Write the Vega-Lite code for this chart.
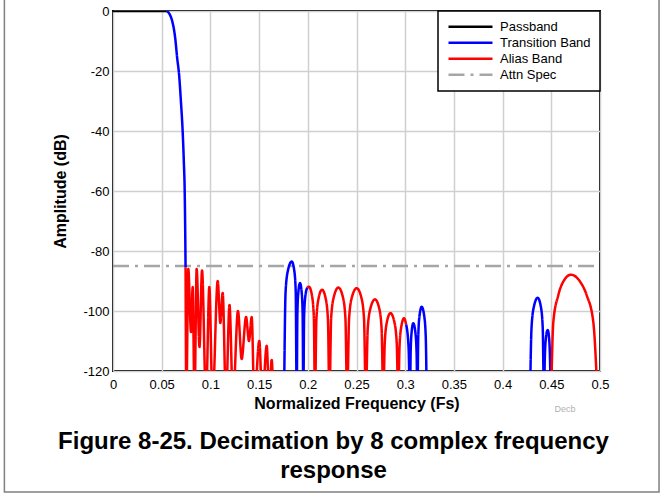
{
  "$schema": "https://vega.github.io/schema/vega-lite/v6.json",
  "width": 487,
  "height": 360,
  "autosize": {"type": "none"},
  "padding": {"left": 113, "top": 11, "right": 62, "bottom": 124},
  "background": "white",
  "config": {
    "font": "Liberation Sans",
    "view": {"stroke": "black", "strokeWidth": 2},
    "axis": {
      "domain": false,
      "ticks": false,
      "grid": true,
      "gridColor": "#d0d0d0",
      "gridWidth": 1.5,
      "labelFont": "Liberation Sans",
      "labelFontSize": 13,
      "labelColor": "black",
      "labelFlush": false,
      "labelOverlap": false,
      "titleFont": "Liberation Sans",
      "titleFontSize": 16,
      "titleFontWeight": "bold",
      "titleColor": "black"
    },
    "legend": {
      "orient": "top-right",
      "offset": 0,
      "strokeColor": "black",
      "strokeWidth": 1.5,
      "fillColor": "white",
      "padding": 9,
      "rowPadding": 2,
      "clipHeight": 13.5,
      "labelFont": "Liberation Sans",
      "labelFontSize": 13,
      "labelColor": "black",
      "symbolType": "stroke",
      "symbolSize": 1936,
      "symbolStrokeWidth": 2.5,
      "symbolOffset": 0,
      "labelOffset": 6
    }
  },
  "title": {
    "text": ["Figure 8-25. Decimation by 8 complex frequency", "response"],
    "orient": "bottom",
    "anchor": "middle",
    "font": "Liberation Sans",
    "fontSize": 24,
    "fontWeight": "bold",
    "color": "black",
    "lineHeight": 29,
    "offset": -63,
    "dx": -23
  },
  "layer": [
    {
      "data": {"values": [{}]},
      "mark": {"type": "rect", "fill": "transparent", "stroke": "#808080", "strokeWidth": 1.5, "clip": false},
      "encoding": {
        "x": {"datum": -0.1115, "type": "quantitative", "scale": {"domain": [0, 0.5], "nice": false, "zero": false}},
        "x2": {"datum": 0.5606},
        "y": {"datum": 10, "type": "quantitative", "scale": {"domain": [-120, 0], "nice": false}},
        "y2": {"datum": -160.3}
      }
    },
    {
      "data": {
        "values": [
          {"seg": "s8", "band": "Attn Spec", "f": 0, "db": -85},
          {"seg": "s8", "band": "Attn Spec", "f": 0.5, "db": -85},
          {"seg": "s0", "band": "Passband", "f": 0, "db": 0},
          {"seg": "s0", "band": "Passband", "f": 0.0551, "db": 0},
          {"seg": "s1", "band": "Transition Band", "f": 0.0551, "db": 0},
          {"seg": "s1", "band": "Transition Band", "f": 0.0585, "db": -1.3},
          {"seg": "s1", "band": "Transition Band", "f": 0.0609, "db": -3.5},
          {"seg": "s1", "band": "Transition Band", "f": 0.0637, "db": -8.6},
          {"seg": "s1", "band": "Transition Band", "f": 0.066, "db": -16},
          {"seg": "s1", "band": "Transition Band", "f": 0.0678, "db": -21},
          {"seg": "s1", "band": "Transition Band", "f": 0.0697, "db": -30},
          {"seg": "s1", "band": "Transition Band", "f": 0.0715, "db": -40},
          {"seg": "s1", "band": "Transition Band", "f": 0.0727, "db": -50},
          {"seg": "s1", "band": "Transition Band", "f": 0.0736, "db": -60},
          {"seg": "s1", "band": "Transition Band", "f": 0.0741, "db": -72},
          {"seg": "s1", "band": "Transition Band", "f": 0.0745, "db": -85.5},
          {"seg": "s2", "band": "Alias Band", "f": 0.0745, "db": -85.5},
          {"seg": "s2", "band": "Alias Band", "f": 0.0753, "db": -130},
          {"seg": "s2", "band": "Alias Band", "f": 0.0773, "db": -86},
          {"seg": "s2", "band": "Alias Band", "f": 0.0801, "db": -107},
          {"seg": "s2", "band": "Alias Band", "f": 0.0818, "db": -92},
          {"seg": "s2", "band": "Alias Band", "f": 0.0837, "db": -130},
          {"seg": "s2", "band": "Alias Band", "f": 0.0859, "db": -86},
          {"seg": "s2", "band": "Alias Band", "f": 0.0888, "db": -112},
          {"seg": "s2", "band": "Alias Band", "f": 0.0914, "db": -86.5},
          {"seg": "s2", "band": "Alias Band", "f": 0.0955, "db": -130},
          {"seg": "s2", "band": "Alias Band", "f": 0.0989, "db": -92},
          {"seg": "s2", "band": "Alias Band", "f": 0.1022, "db": -130},
          {"seg": "s2", "band": "Alias Band", "f": 0.1075, "db": -90},
          {"seg": "s2", "band": "Alias Band", "f": 0.1102, "db": -104},
          {"seg": "s2", "band": "Alias Band", "f": 0.1126, "db": -94},
          {"seg": "s2", "band": "Alias Band", "f": 0.116, "db": -130},
          {"seg": "s2", "band": "Alias Band", "f": 0.1196, "db": -98},
          {"seg": "s2", "band": "Alias Band", "f": 0.1232, "db": -130},
          {"seg": "s2", "band": "Alias Band", "f": 0.1283, "db": -100},
          {"seg": "s2", "band": "Alias Band", "f": 0.1321, "db": -116},
          {"seg": "s2", "band": "Alias Band", "f": 0.1366, "db": -102},
          {"seg": "s2", "band": "Alias Band", "f": 0.1396, "db": -110},
          {"seg": "s2", "band": "Alias Band", "f": 0.1424, "db": -102},
          {"seg": "s2", "band": "Alias Band", "f": 0.1451, "db": -130},
          {"seg": "s2", "band": "Alias Band", "f": 0.1502, "db": -110},
          {"seg": "s2", "band": "Alias Band", "f": 0.1533, "db": -130},
          {"seg": "s2", "band": "Alias Band", "f": 0.1578, "db": -111.6},
          {"seg": "s2", "band": "Alias Band", "f": 0.1605, "db": -130},
          {"seg": "s2", "band": "Alias Band", "f": 0.1629, "db": -116.3},
          {"seg": "s2", "band": "Alias Band", "f": 0.1646, "db": -130},
          {"seg": "s3", "band": "Transition Band", "f": 0.1756, "db": -130},
          {"seg": "s3", "band": "Transition Band", "f": 0.1772, "db": -93.5},
          {"seg": "s3", "band": "Transition Band", "f": 0.1796, "db": -86.5},
          {"seg": "s3", "band": "Transition Band", "f": 0.1835, "db": -83.5},
          {"seg": "s3", "band": "Transition Band", "f": 0.1861, "db": -86.5},
          {"seg": "s3", "band": "Transition Band", "f": 0.1876, "db": -93.5},
          {"seg": "s3", "band": "Transition Band", "f": 0.1886, "db": -130},
          {"seg": "s3", "band": "Transition Band", "f": 0.1893, "db": -101},
          {"seg": "s3", "band": "Transition Band", "f": 0.1903, "db": -93.7},
          {"seg": "s3", "band": "Transition Band", "f": 0.192, "db": -90.7},
          {"seg": "s3", "band": "Transition Band", "f": 0.1937, "db": -93.7},
          {"seg": "s3", "band": "Transition Band", "f": 0.1947, "db": -101},
          {"seg": "s3", "band": "Transition Band", "f": 0.1954, "db": -130},
          {"seg": "s3", "band": "Transition Band", "f": 0.1962, "db": -102},
          {"seg": "s3", "band": "Transition Band", "f": 0.1975, "db": -95},
          {"seg": "s3", "band": "Transition Band", "f": 0.1995, "db": -92.2},
          {"seg": "s4", "band": "Alias Band", "f": 0.1995, "db": -92.2},
          {"seg": "s4", "band": "Alias Band", "f": 0.2012, "db": -91.9},
          {"seg": "s4", "band": "Alias Band", "f": 0.2043, "db": -94.9},
          {"seg": "s4", "band": "Alias Band", "f": 0.2062, "db": -102},
          {"seg": "s4", "band": "Alias Band", "f": 0.2074, "db": -130},
          {"seg": "s4", "band": "Alias Band", "f": 0.2088, "db": -103},
          {"seg": "s4", "band": "Alias Band", "f": 0.211, "db": -95.9},
          {"seg": "s4", "band": "Alias Band", "f": 0.2146, "db": -92.9},
          {"seg": "s4", "band": "Alias Band", "f": 0.2184, "db": -95.9},
          {"seg": "s4", "band": "Alias Band", "f": 0.2207, "db": -103},
          {"seg": "s4", "band": "Alias Band", "f": 0.2222, "db": -130},
          {"seg": "s4", "band": "Alias Band", "f": 0.224, "db": -102.2},
          {"seg": "s4", "band": "Alias Band", "f": 0.2268, "db": -95.2},
          {"seg": "s4", "band": "Alias Band", "f": 0.2314, "db": -92.2},
          {"seg": "s4", "band": "Alias Band", "f": 0.2359, "db": -95.2},
          {"seg": "s4", "band": "Alias Band", "f": 0.2386, "db": -102.2},
          {"seg": "s4", "band": "Alias Band", "f": 0.2404, "db": -130},
          {"seg": "s4", "band": "Alias Band", "f": 0.2424, "db": -102.4},
          {"seg": "s4", "band": "Alias Band", "f": 0.2453, "db": -95.4},
          {"seg": "s4", "band": "Alias Band", "f": 0.2502, "db": -92.4},
          {"seg": "s4", "band": "Alias Band", "f": 0.2549, "db": -95.4},
          {"seg": "s4", "band": "Alias Band", "f": 0.2577, "db": -102.4},
          {"seg": "s4", "band": "Alias Band", "f": 0.2596, "db": -130},
          {"seg": "s4", "band": "Alias Band", "f": 0.2615, "db": -106.1},
          {"seg": "s4", "band": "Alias Band", "f": 0.2643, "db": -99.1},
          {"seg": "s4", "band": "Alias Band", "f": 0.269, "db": -96.1},
          {"seg": "s4", "band": "Alias Band", "f": 0.2733, "db": -99.1},
          {"seg": "s4", "band": "Alias Band", "f": 0.2758, "db": -106.1},
          {"seg": "s4", "band": "Alias Band", "f": 0.2775, "db": -130},
          {"seg": "s4", "band": "Alias Band", "f": 0.279, "db": -110.7},
          {"seg": "s4", "band": "Alias Band", "f": 0.2812, "db": -103.7},
          {"seg": "s4", "band": "Alias Band", "f": 0.2849, "db": -100.7},
          {"seg": "s4", "band": "Alias Band", "f": 0.2889, "db": -103.7},
          {"seg": "s4", "band": "Alias Band", "f": 0.2913, "db": -110.7},
          {"seg": "s4", "band": "Alias Band", "f": 0.2929, "db": -130},
          {"seg": "s4", "band": "Alias Band", "f": 0.2941, "db": -112.4},
          {"seg": "s4", "band": "Alias Band", "f": 0.2959, "db": -105.4},
          {"seg": "s4", "band": "Alias Band", "f": 0.2988, "db": -102.4},
          {"seg": "s4", "band": "Alias Band", "f": 0.301, "db": -104.5},
          {"seg": "s5", "band": "Transition Band", "f": 0.301, "db": -104.5},
          {"seg": "s5", "band": "Transition Band", "f": 0.3035, "db": -112.4},
          {"seg": "s5", "band": "Transition Band", "f": 0.3049, "db": -130},
          {"seg": "s5", "band": "Transition Band", "f": 0.3056, "db": -114},
          {"seg": "s5", "band": "Transition Band", "f": 0.3066, "db": -107},
          {"seg": "s5", "band": "Transition Band", "f": 0.3083, "db": -104.1},
          {"seg": "s5", "band": "Transition Band", "f": 0.3104, "db": -107},
          {"seg": "s5", "band": "Transition Band", "f": 0.3117, "db": -114},
          {"seg": "s5", "band": "Transition Band", "f": 0.3125, "db": -130},
          {"seg": "s5", "band": "Transition Band", "f": 0.3134, "db": -108.6},
          {"seg": "s5", "band": "Transition Band", "f": 0.3147, "db": -101.6},
          {"seg": "s5", "band": "Transition Band", "f": 0.3169, "db": -98.6},
          {"seg": "s5", "band": "Transition Band", "f": 0.3195, "db": -101.6},
          {"seg": "s5", "band": "Transition Band", "f": 0.3211, "db": -108.6},
          {"seg": "s5", "band": "Transition Band", "f": 0.3221, "db": -130},
          {"seg": "s6", "band": "Transition Band", "f": 0.4281, "db": -130},
          {"seg": "s6", "band": "Transition Band", "f": 0.4297, "db": -105.6},
          {"seg": "s6", "band": "Transition Band", "f": 0.4321, "db": -98.6},
          {"seg": "s6", "band": "Transition Band", "f": 0.436, "db": -95.6},
          {"seg": "s6", "band": "Transition Band", "f": 0.4393, "db": -98.6},
          {"seg": "s6", "band": "Transition Band", "f": 0.4412, "db": -105.6},
          {"seg": "s6", "band": "Transition Band", "f": 0.4425, "db": -130},
          {"seg": "s6", "band": "Transition Band", "f": 0.4433, "db": -116.3},
          {"seg": "s6", "band": "Transition Band", "f": 0.4444, "db": -109.3},
          {"seg": "s6", "band": "Transition Band", "f": 0.4463, "db": -106.3},
          {"seg": "s6", "band": "Transition Band", "f": 0.4478, "db": -109.3},
          {"seg": "s6", "band": "Transition Band", "f": 0.4487, "db": -116.3},
          {"seg": "s6", "band": "Transition Band", "f": 0.4495, "db": -130},
          {"seg": "s7", "band": "Alias Band", "f": 0.4497, "db": -130},
          {"seg": "s7", "band": "Alias Band", "f": 0.4521, "db": -103.6},
          {"seg": "s7", "band": "Alias Band", "f": 0.4572, "db": -94.7},
          {"seg": "s7", "band": "Alias Band", "f": 0.4623, "db": -90.2},
          {"seg": "s7", "band": "Alias Band", "f": 0.4702, "db": -87.9},
          {"seg": "s7", "band": "Alias Band", "f": 0.4795, "db": -90.2},
          {"seg": "s7", "band": "Alias Band", "f": 0.4863, "db": -94.7},
          {"seg": "s7", "band": "Alias Band", "f": 0.4931, "db": -103.6},
          {"seg": "s7", "band": "Alias Band", "f": 0.4976, "db": -130}
        ]
      },
      "mark": {"type": "line", "interpolate": "monotone", "strokeWidth": 2.5, "clip": true},
      "encoding": {
        "x": {
          "field": "f",
          "type": "quantitative",
          "scale": {"domain": [0, 0.5], "nice": false, "zero": false},
          "axis": {
            "values": [0, 0.05, 0.1, 0.15, 0.2, 0.25, 0.3, 0.35, 0.4, 0.45, 0.5],
            "labelExpr": "'' + datum.value",
            "labelPadding": 7,
            "title": "Normalized Frequency (Fs)",
            "titlePadding": 4
          }
        },
        "y": {
          "field": "db",
          "type": "quantitative",
          "scale": {"domain": [-120, 0], "nice": false},
          "axis": {
            "values": [-120, -100, -80, -60, -40, -20, 0],
            "labelExpr": "'' + datum.value",
            "labelPadding": 4,
            "title": "Amplitude (dB)",
            "titlePadding": 14
          }
        },
        "color": {
          "field": "band",
          "type": "nominal",
          "scale": {
            "domain": ["Passband", "Transition Band", "Alias Band", "Attn Spec"],
            "range": ["#000000", "#0000ff", "#ff0000", "#a6a6a6"]
          },
          "legend": {"title": null}
        },
        "strokeDash": {
          "field": "band",
          "type": "nominal",
          "scale": {
            "domain": ["Passband", "Transition Band", "Alias Band", "Attn Spec"],
            "range": [[1, 0], [1, 0], [1, 0], [16, 6, 3, 6]]
          },
          "legend": {"title": null}
        },
        "detail": {"field": "seg", "type": "nominal"}
      }
    },
    {
      "data": {"values": [{}]},
      "mark": {"type": "text", "fontSize": 9, "color": "#b0b0b0", "font": "Liberation Sans", "clip": false},
      "encoding": {
        "x": {"datum": 0.464, "type": "quantitative"},
        "y": {"datum": -132.7, "type": "quantitative"},
        "text": {"value": "Decb"}
      }
    }
  ]
}
